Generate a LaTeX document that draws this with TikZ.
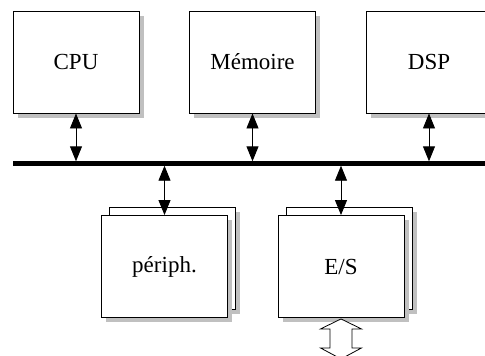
\documentclass[tikz,border=0pt]{standalone}
\usepackage{fontspec}
\setmainfont{Liberation Serif}
\usetikzlibrary{arrows.meta,shadows}
\definecolor{shgray}{RGB}{192,192,192}
\begin{document}
\begin{tikzpicture}[x=1pt,y=-1pt,
  box/.style={draw=black, line width=0.9pt, fill=white, minimum width=126pt, minimum height=102pt,
    inner sep=0pt, font=\fontsize{23}{27}\selectfont,
    drop shadow={shadow xshift=4.5pt, shadow yshift=-4.5pt, fill=shgray, opacity=1}},
  bus/.style={line width=4.5pt},
  dbl/.style={line width=0.9pt, {Triangle[width=12pt,length=15pt]}-{Triangle[width=12pt,length=15pt]}},
  hollow/.style={draw=black, line width=0.8pt, fill=white}]
\useasboundingbox (0,0) rectangle (485,356);
\clip (0,0) rectangle (485,356);
% top boxes
\node[box] (cpu) at (76,62) {CPU};
\node[box] (mem) at (252.5,62) {Mémoire};
\node[box] (dsp) at (429,62) {DSP};
% bus
\coordinate (busL) at (13,163.5);
\coordinate (busR) at (492,163.5);
\coordinate (bt) at (0,161.3);
\coordinate (bb) at (0,165.7);
\draw[bus] (busL) -- (busR);
% lower stacked boxes
\node[box] (perback) at (172.5,258.5) {};
\node[box] (per) at (164.5,266.5) {périph.};
\node[box] (esback) at (349,258.5) {};
\node[box] (es) at (341,266.5) {E/S};
% connectors
\draw[dbl] (cpu.south) -- (cpu.south |- bt);
\draw[dbl] (mem.south) -- (mem.south |- bt);
\draw[dbl] (dsp.south) -- (dsp.south |- bt);
\draw[dbl] (per.north |- bb) -- (per.north);
\draw[dbl] (es.north |- bb) -- (es.north);
% hollow double arrow
\draw[hollow, shift={(es.south)}]
  (0,1) -- (20.5,11) -- (11,11) -- (11,30) -- (20.5,30) -- (0,41)
  -- (-20.5,30) -- (-11,30) -- (-11,11) -- (-20.5,11) -- cycle;
\end{tikzpicture}
\end{document}
